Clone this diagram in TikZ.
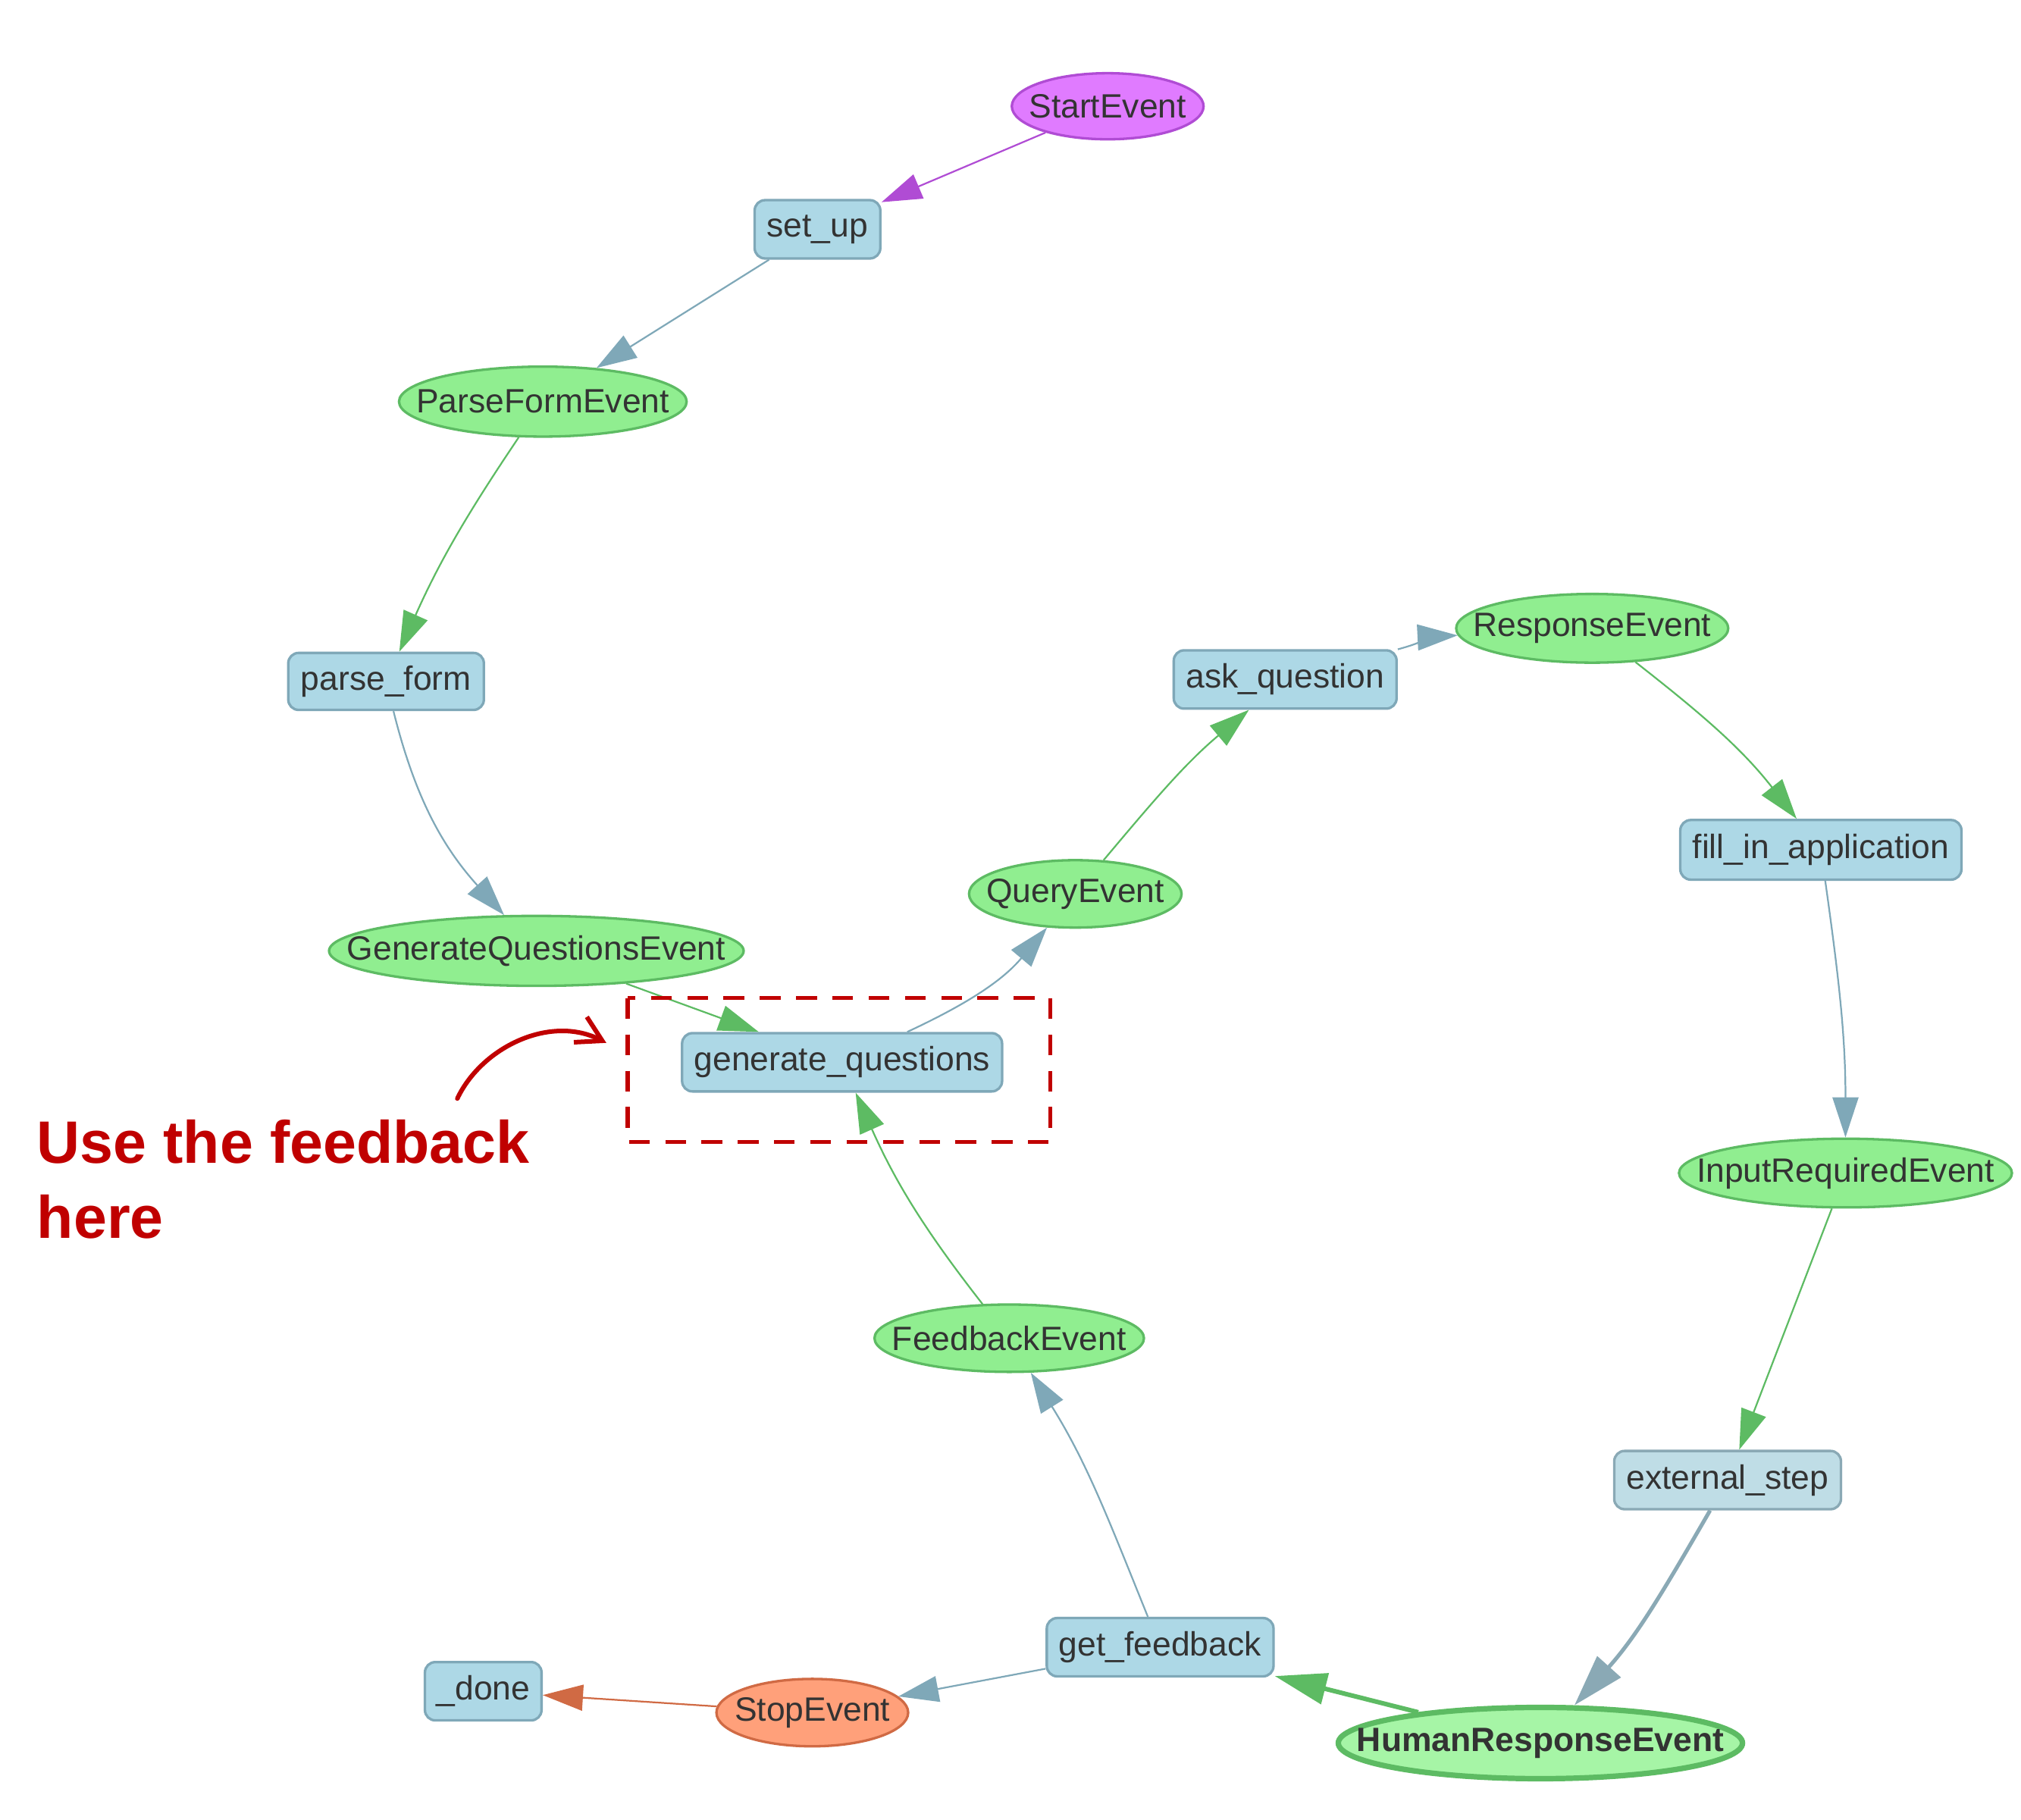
\documentclass[tikz,border=0pt]{standalone}
\usepackage{fontspec}
\setmainfont{Liberation Sans}
\usetikzlibrary{arrows.meta,shapes.geometric}

\definecolor{txtgray}{HTML}{333333}
\definecolor{stepfill}{HTML}{ADD8E6}
\definecolor{stepdraw}{HTML}{7FA8B8}
\definecolor{eventfill}{HTML}{90EE90}
\definecolor{eventdraw}{HTML}{5DBB63}
\definecolor{startfill}{HTML}{E07BFF}
\definecolor{startdraw}{HTML}{B04CD4}
\definecolor{stopfill}{HTML}{FFA07A}
\definecolor{stopdraw}{HTML}{D06A44}
\definecolor{hoverfill}{HTML}{BFDDE6}
\definecolor{hoverdraw}{HTML}{8AA9B5}
\definecolor{selfill}{HTML}{A6F5A6}
\definecolor{annotred}{HTML}{C00000}

\begin{document}
\begin{tikzpicture}
  [-{Triangle[length=3.1mm,width=2mm]}, line width=0.37pt,
   every node/.style={font=\fontsize{7.4}{9}\selectfont, text=txtgray, inner sep=0pt},
   stepnode/.style={rectangle, rounded corners=0.8mm, draw=stepdraw, fill=stepfill,
     line width=0.55pt, minimum height=0.45cm},
   eventnode/.style={ellipse, draw=eventdraw, fill=eventfill, line width=0.55pt,
     execute at begin node={\hbox to 0pt\bgroup\hss}, execute at end node={\hss\egroup}},
   stepedge/.style={draw=stepdraw},
   eventedge/.style={draw=eventdraw},
   bigedge/.style={line width=1pt, -{Triangle[length=4mm,width=2.4mm]}}]

  \useasboundingbox (0,0) rectangle (15.6,-14.044);

  % Início e primeiros passos
  \node[eventnode, draw=startdraw, fill=startfill, minimum width=1.48cm, minimum height=0.51cm]
    (StartE) at (8.55,-0.82) {StartEvent};
  \node[stepnode, minimum width=0.97cm] (setup) at (6.31,-1.77) {set\_up};
  \node[eventnode, minimum width=2.22cm, minimum height=0.54cm] (ParseFE) at (4.19,-3.10) {ParseFormEvent};
  \node[stepnode, minimum width=1.51cm, minimum height=0.44cm] (parseform) at (2.98,-5.26) {parse\_form};

  % Geração das perguntas
  \node[eventnode, minimum width=3.20cm, minimum height=0.54cm] (GenQE) at (4.14,-7.34) {GenerateQuestionsEvent};
  \node[stepnode, minimum width=2.47cm] (genq) at (6.50,-8.20) {generate\_questions};
  \node[eventnode, minimum width=1.64cm, minimum height=0.52cm] (QueryE) at (8.30,-6.90) {QueryEvent};
  \node[stepnode, minimum width=1.72cm] (askq) at (9.92,-5.245) {ask\_question};
  \node[eventnode, minimum width=2.10cm, minimum height=0.53cm] (RespE) at (12.29,-4.85) {ResponseEvent};

  % Lado direito
  \node[stepnode, minimum width=2.17cm, minimum height=0.46cm] (fillin) at (14.055,-6.56) {fill\_in\_application};
  \node[eventnode, minimum width=2.57cm, minimum height=0.53cm] (InputRE) at (14.245,-9.055) {InputRequiredEvent};
  \node[stepnode, draw=hoverdraw, fill=hoverfill, minimum width=1.75cm] (extstep) at (13.335,-11.425) {external\_step};
  \node[eventnode, fill=selfill, line width=1.2pt, minimum width=3.12cm, minimum height=0.55cm,
    font=\fontsize{7.4}{9}\selectfont\bfseries] (HumanRE) at (11.89,-13.455) {HumanResponseEvent};

  % Parte de baixo
  \node[stepnode, minimum width=1.75cm] (getfb) at (8.955,-12.715) {get\_feedback};
  \node[eventnode, minimum width=2.08cm, minimum height=0.52cm] (FeedbE) at (7.79,-10.33) {FeedbackEvent};
  \node[eventnode, draw=stopdraw, fill=stopfill, minimum width=1.48cm, minimum height=0.52cm]
    (StopE) at (6.27,-13.22) {StopEvent};
  \node[stepnode, minimum width=0.90cm] (done) at (3.73,-13.055) {\_done};

  % Ligações
  \draw[draw=startdraw] (StartE) -- (setup);
  \draw[stepedge] (setup) -- (ParseFE);
  \draw[eventedge] (ParseFE) to[out=236,in=66] (parseform);
  \draw[stepedge] (parseform) to[out=-76,in=132] (GenQE);
  \draw[eventedge] (GenQE) -- (genq);
  \draw[stepedge] (genq) to[out=25,in=230] (QueryE);
  \draw[eventedge] (QueryE) to[out=50,in=220] (askq);
  \draw[stepedge] (askq) to[out=15,in=183] (RespE);
  \draw[eventedge] (RespE) to[out=-38,in=128] (fillin);
  \draw[stepedge] (fillin) to[out=-82,in=90] (InputRE);
  \draw[eventedge] (InputRE) -- (extstep);
  \draw[bigedge, draw=hoverdraw, line width=0.85pt] (extstep) to[out=240,in=48] (HumanRE);
  \draw[bigedge, eventedge] (HumanRE) -- (getfb);
  \draw[stepedge] (getfb) to[out=112,in=302] (FeedbE);
  \draw[stepedge] (getfb) -- (StopE);
  \draw[draw=stopdraw] (StopE) -- (done);
  \draw[eventedge] (FeedbE) to[out=128,in=294] (genq);

  % Anotação
  \draw[-, annotred, line width=0.85pt, dash pattern=on 1.6mm off 1.2mm]
    (4.845,-7.705) rectangle (8.105,-8.815);
  \coordinate (annotstart) at (3.53,-8.48);
  \coordinate (annotend) at (4.68,-8.05);
  \draw[annotred, line width=1pt, line cap=round, -{Straight Barb[length=1.9mm,width=2.2mm]}]
    (annotstart) .. controls (3.72,-8.08) and (4.25,-7.83) .. (annotend);
  \node[anchor=north west, align=left, text=annotred, font=\fontsize{13.15}{16.5}\selectfont\bfseries]
    (annot) at (0.28,-8.635) {Use the feedback\\here};
\end{tikzpicture}
\end{document}
